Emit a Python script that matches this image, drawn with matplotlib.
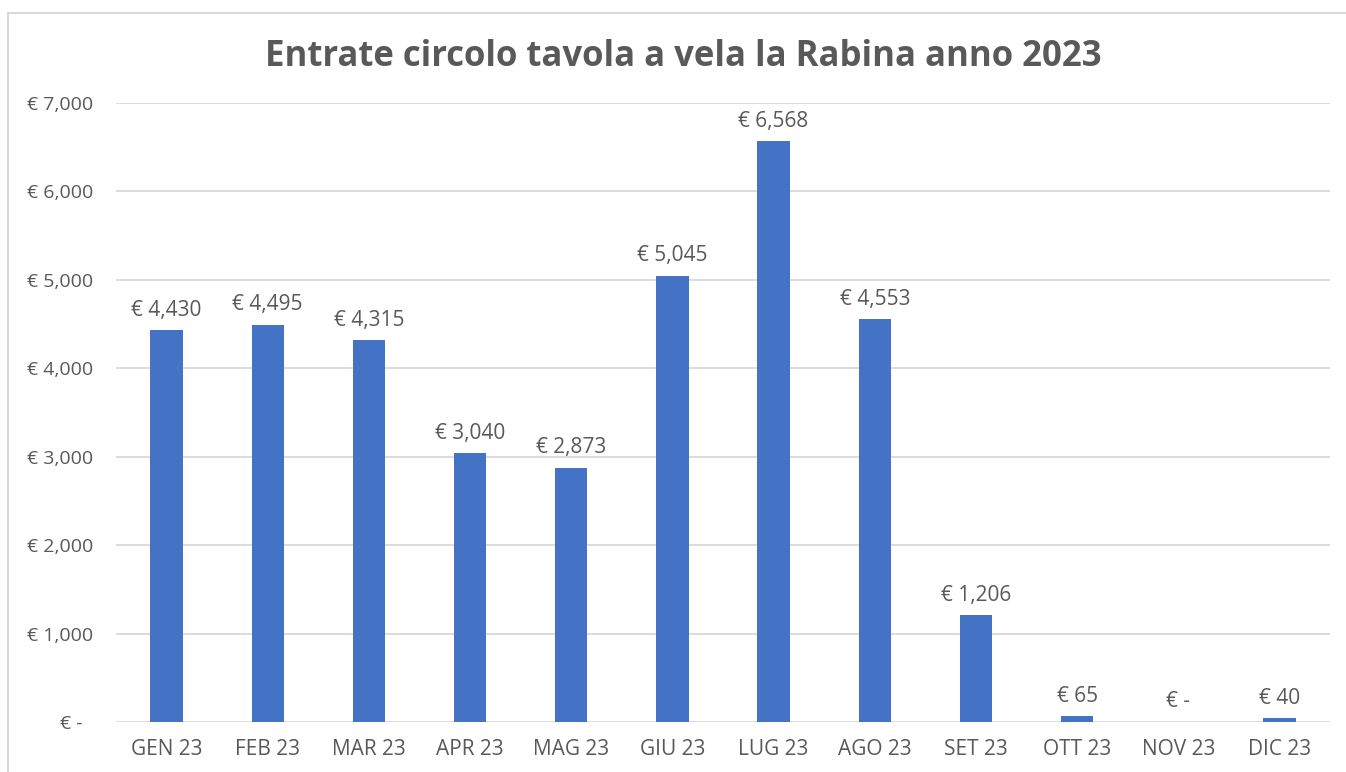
import matplotlib
matplotlib.use("Agg")
import matplotlib.pyplot as plt
from matplotlib.lines import Line2D

# dati
mesi = ["GEN 23", "FEB 23", "MAR 23", "APR 23", "MAG 23", "GIU 23",
        "LUG 23", "AGO 23", "SET 23", "OTT 23", "NOV 23", "DIC 23"]
entrate = [4430, 4495, 4315, 3040, 2873, 5045, 6568, 4553, 1206, 65, 0, 40]
y_ticks = [0, 1000, 2000, 3000, 4000, 5000, 6000, 7000]

titolo = "Entrate circolo tavola a vela la Rabina anno 2023"

plt.rcParams['font.family'] = ['Open Sans', 'DejaVu Sans']
grigio = "#595959"


def euro(v):
    return "€ -" if v == 0 else f"€ {v:,.0f}"


fig = plt.figure(figsize=(13.46, 7.72), dpi=100)
ax = fig.add_axes([116 / 1346, 1 - 722 / 772, (1330 - 116) / 1346, (722 - 103) / 772])

x = range(len(mesi))
bars = ax.bar(x, entrate, width=0.32, color="#4472C4", zorder=3)

# etichette sopra le barre
for xi, v in zip(x, entrate):
    ax.annotate(euro(v), (xi, v), xytext=(0, 14.5), textcoords="offset points",
                ha="center", va="center", fontsize=15, color=grigio)

ax.set_xlim(-0.5, len(mesi) - 0.5)
ax.set_ylim(0, 7000)
ax.set_yticks(y_ticks)
ax.set_yticklabels([euro(v) if v else "€ -  " for v in y_ticks])
ax.set_xticks(list(x))
ax.set_xticklabels(mesi)
ax.tick_params(axis="y", length=0, pad=16.5, labelsize=14, labelcolor=grigio)
ax.tick_params(axis="x", length=0, pad=12, labelsize=15, labelcolor=grigio)
ax.grid(axis="y", color="#d9d9d9", linewidth=1.3, zorder=0)
for s in ax.spines.values():
    s.set_visible(False)

fig.text(683 / 1346, 1 - 57 / 772, titolo, ha="center", va="center",
         fontsize=25, fontweight="bold", color=grigio)

# cornice del grafico
fig.add_artist(Line2D([8 / 1346, 1], [1 - 13 / 772, 1 - 13 / 772],
                      transform=fig.transFigure, color="#d9d9d9", linewidth=1.5))
fig.add_artist(Line2D([8 / 1346, 8 / 1346], [0, 1 - 13 / 772],
                      transform=fig.transFigure, color="#d9d9d9", linewidth=1.5))

fig.savefig("out.png", dpi=100)
